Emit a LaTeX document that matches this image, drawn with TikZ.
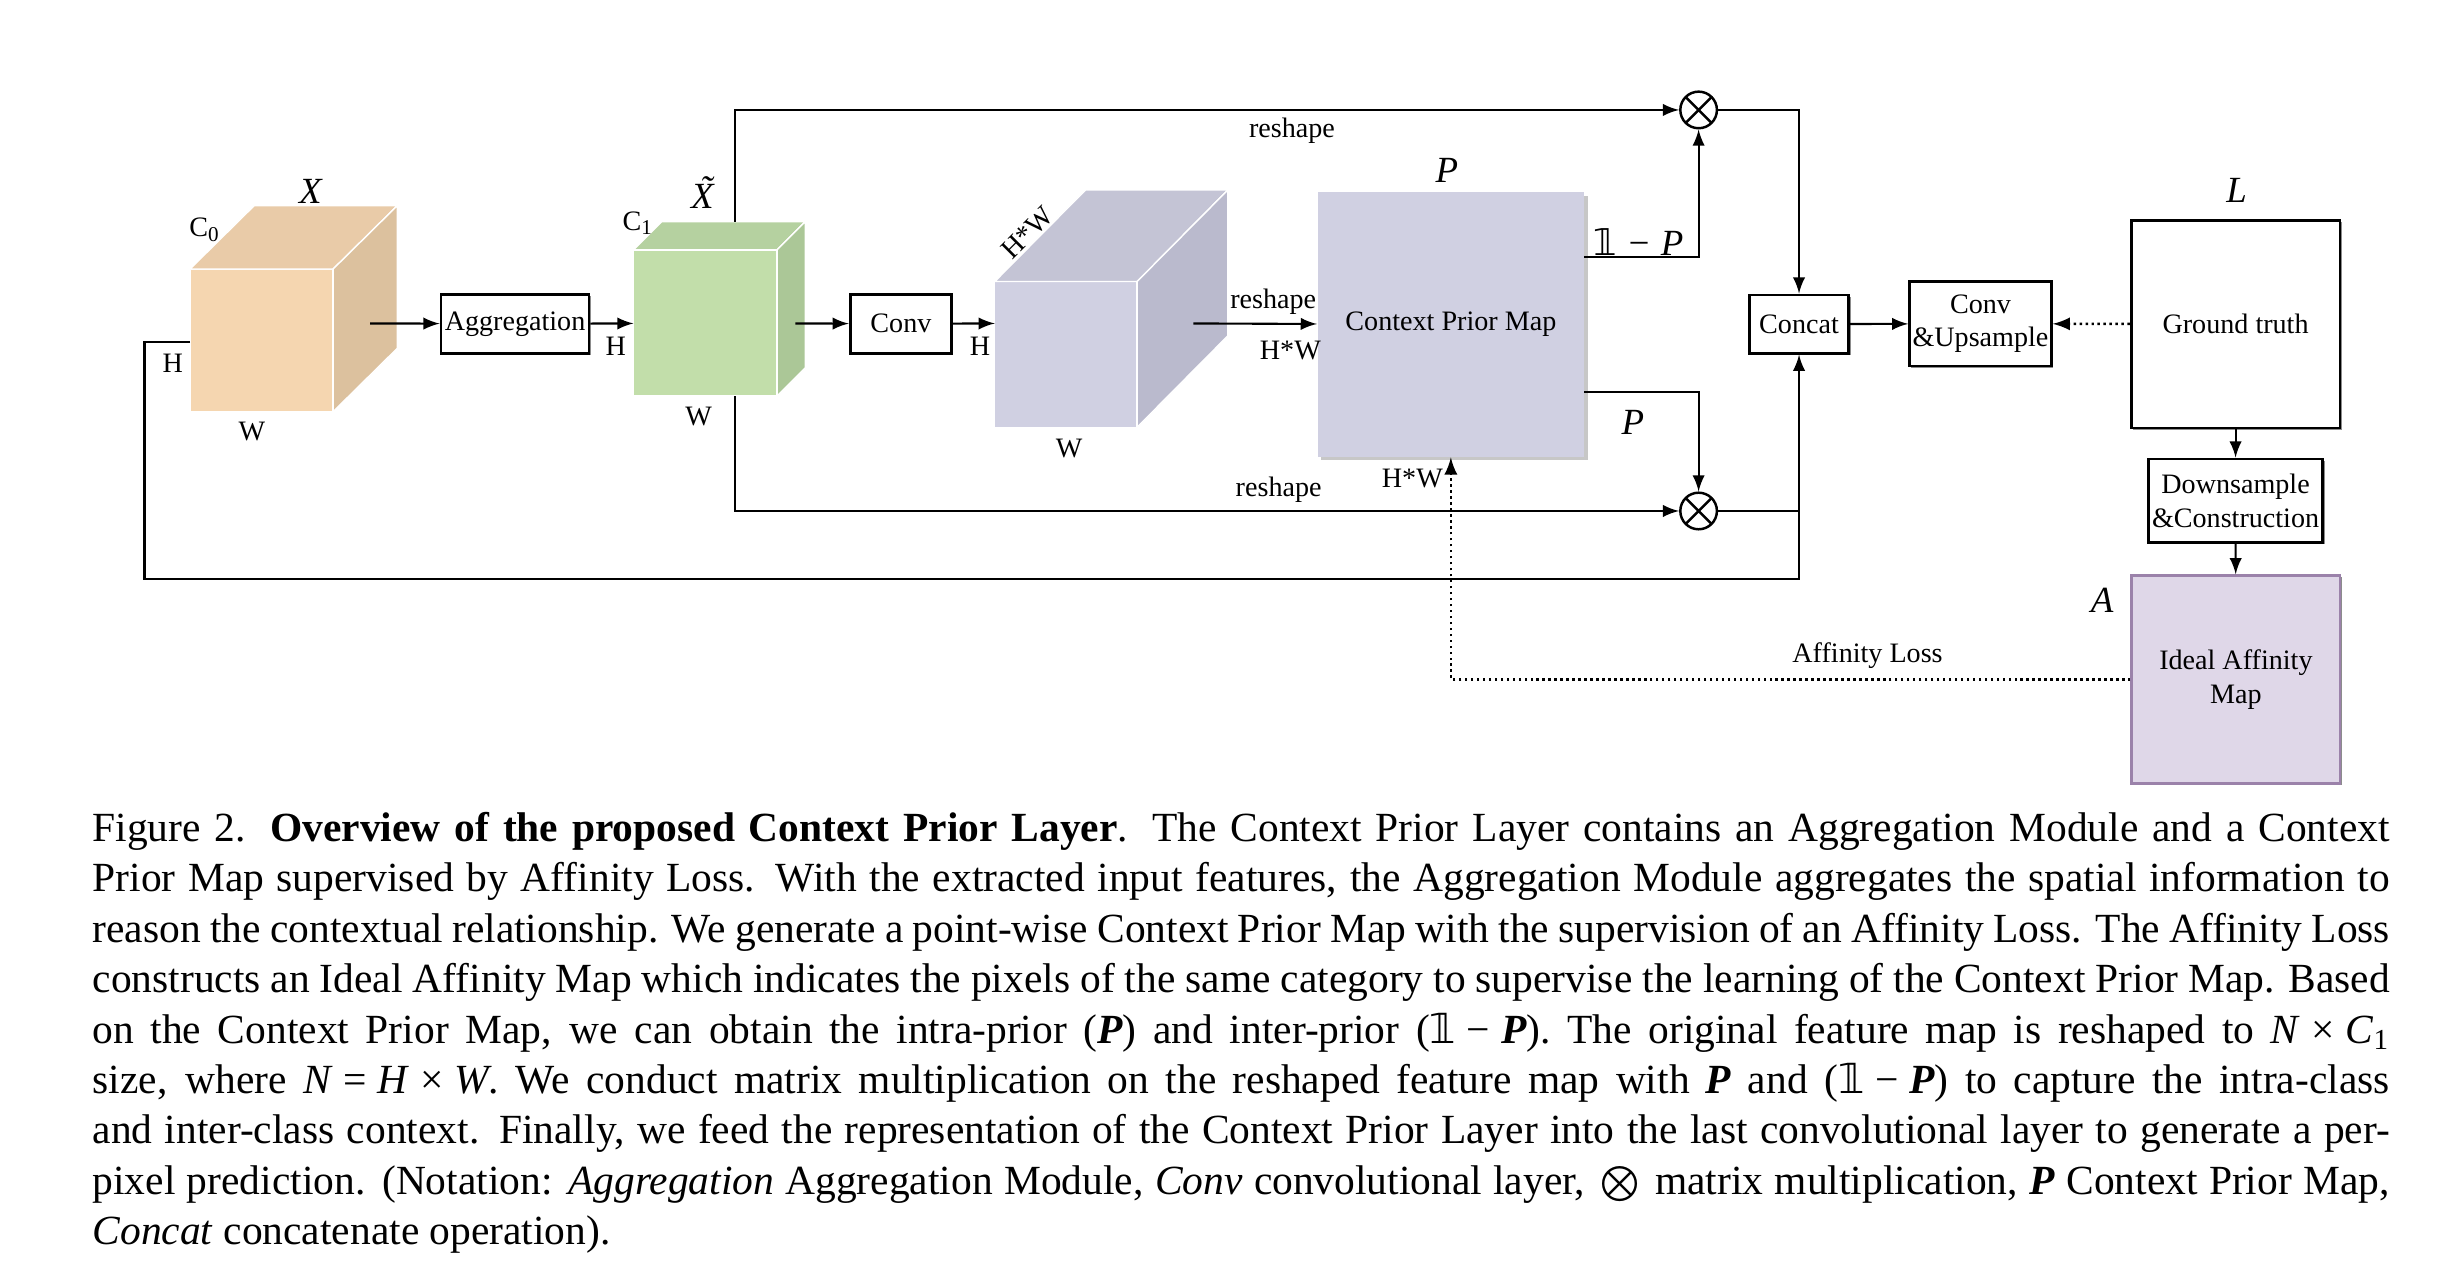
\documentclass[tikz,border=0pt]{standalone}
\usepackage{fontspec}
\setmainfont{Liberation Serif}
\newfontfamily\dvsans{DejaVu Sans}
\usetikzlibrary{arrows,shadows,calc}

\definecolor{xfront}{RGB}{245,214,176}
\definecolor{xtop}{RGB}{233,203,168}
\definecolor{xside}{RGB}{220,193,158}
\definecolor{gfront}{RGB}{194,222,170}
\definecolor{gtop}{RGB}{181,209,160}
\definecolor{gside}{RGB}{171,199,151}
\definecolor{pfront}{RGB}{208,208,226}
\definecolor{ptop}{RGB}{196,196,213}
\definecolor{pside}{RGB}{186,186,205}
\definecolor{iafill}{RGB}{223,215,232}
\definecolor{iadraw}{RGB}{155,130,170}

\newcommand{\one}{{\dvsans\upshape\mdseries 𝟙}}
\newcommand{\vP}{\textbf{\textit{P}}}
\newcommand{\bop}[1]{\kern0.26em#1\kern0.26em}
\newcommand{\capline}[1]{\hbox to 22.97cm{#1}}

\begin{document}
\begin{tikzpicture}[x=0.015641cm,y=-0.015641cm,
   font=\fontsize{8}{9.6}\selectfont,
   arr/.style={-latex,line width=0.6pt},
   dots/.style={-latex,line width=0.7pt,densely dotted},
   box/.style={draw,line width=0.8pt,fill=white,inner sep=0pt,align=center,
     drop shadow={shadow xshift=0.5pt,shadow yshift=-0.5pt,fill=black!45,opacity=1}},
   mul/.style={circle,draw,line width=0.7pt,minimum size=0.366cm,inner sep=0pt,
     path picture={\draw[line width=0.7pt] (path picture bounding box.north west) -- (path picture bounding box.south east)
       (path picture bounding box.north east) -- (path picture bounding box.south west);}},
   mlabel/.style={font=\fontsize{10.5}{12}\selectfont\itshape},
   capline/.style={anchor=base west,inner sep=0pt,font=\fontsize{11.8}{14.3}\selectfont}]
   \useasboundingbox (0,0) rectangle (1560,814.5);

   % input feature X
   \fill[xfront,draw=white,line width=0.4pt] (121.5,172) rectangle (213,263.2);
   \fill[xtop,draw=white,line width=0.4pt] (121.5,172) -- (162.5,131.5) -- (254,131.5) -- (213,172) -- cycle;
   \fill[xside,draw=white,line width=0.4pt] (213,172) -- (254,131.5) -- (254,222.7) -- (213,263.2) -- cycle;
   \node[mlabel] (lx) at (198.5,122.6) {X};
   \node (lc0) at (131,147) {C\textsubscript{0}};
   \node (lhx) at (110.4,232.3) {H};
   \node (lwx) at (161,276) {W};
   \coordinate (xo) at (236.6,206.8);
   \coordinate (xl) at (121.5,218.5);

   % aggregated feature
   \fill[gfront,draw=white,line width=0.4pt] (405,159.8) rectangle (496.8,253.2);
   \fill[gtop,draw=white,line width=0.4pt] (405,159.8) -- (423,141.8) -- (514.8,141.8) -- (496.8,159.8) -- cycle;
   \fill[gside,draw=white,line width=0.4pt] (496.8,159.8) -- (514.8,141.8) -- (514.8,235.2) -- (496.8,253.2) -- cycle;
   \node[mlabel] (lxt) at (449,125.7) {\ooalign{X\cr\hidewidth\kern0.2em\raisebox{0.2em}{˜}\hidewidth\cr}};
   \node (lc1) at (408,142.7) {C\textsubscript{1}};
   \node (lhg) at (393.7,221.5) {H};
   \node (lwg) at (446.6,266.4) {W};
   \coordinate (gi) at (405,206.8);
   \coordinate (go) at (508.5,206.8);
   \coordinate (gup) at (469.8,141.8);
   \coordinate (gdn) at (469.8,253.2);

   % conv feature
   \fill[pfront,draw=white,line width=0.4pt] (636,180) rectangle (727,273.2);
   \fill[ptop,draw=white,line width=0.4pt] (636,180) -- (694,121.5) -- (785,121.5) -- (727,180) -- cycle;
   \fill[pside,draw=white,line width=0.4pt] (727,180) -- (785,121.5) -- (785,214.7) -- (727,273.2) -- cycle;
   \node[rotate=45,inner sep=0pt] (lhw) at (657,149) {H*W};
   \node (lhp) at (626.6,221.7) {H};
   \node (lwp) at (683.5,286.6) {W};
   \coordinate (pi) at (636,206.8);
   \coordinate (po) at (763,206.8);

   % boxes
   \node[box,minimum width=1.48cm,minimum height=0.59cm] (agg) at (329.3,207) {Aggregation};
   \node[box,minimum width=1.015cm,minimum height=0.593cm] (conv) at (576,207) {Conv};
   \node[draw=none,fill=pfront,minimum width=2.665cm,minimum height=2.643cm,inner sep=0pt,
     drop shadow={shadow xshift=1pt,shadow yshift=-1pt,fill=black!22,opacity=1}] (cpm) at (927.6,207.5) {Context Prior Map};
   \node[mlabel] (lp) at (925,108.8) {P};
   \node[mul] (mula) at (1086,70.3) {};
   \node[mul] (mulb) at (1086,326.7) {};
   \node[box,minimum width=0.995cm,minimum height=0.583cm] (concat) at (1150.2,207.2) {Concat};
   \node[box,minimum width=1.416cm,minimum height=0.845cm] (convup) at (1266.2,207) {Conv\\\&Upsample};
   \node[box,minimum width=2.087cm,minimum height=2.079cm] (gt) at (1429.3,207.2) {Ground truth};
   \node[mlabel] (ll) at (1430,121.5) {L};
   \node[box,minimum width=1.744cm,minimum height=0.837cm] (down) at (1429.3,320.2) {Downsample\\\&Construction};
   \node[box,draw=iadraw,fill=iafill,minimum width=2.08cm,minimum height=2.076cm] (iam) at (1429.5,434.4) {Ideal Affinity\\Map};
   \node[mlabel] (la) at (1344,383.7) {A};

   % connectors
   \draw[arr] (xo) -- (agg);
   \draw[arr] (agg) -- (gi);
   \draw[arr] (go) -- (conv);
   \draw[arr] (conv) -- (pi);
   \draw[arr] (po) -- (cpm);
   \node (lrs) at (814,193) {reshape};
   \node (lhw2) at (825,223.8) {H*W};
   \draw[arr] (gup) |- (mula);
   \node (lrs1) at (826,83.6) {reshape};
   \draw[arr] (gdn) |- (mulb);
   \node (lrs2) at (817.5,313.3) {reshape};
   \coordinate (cpma) at (1012.8,164.4);
   \coordinate (cpmb) at (1012.8,250.4);
   \draw[arr] (cpma) -| (mula);
   \node[mlabel] (l1p) at (1047.5,154.5) {\one\bop{−}P};
   \draw[arr] (cpmb) -| (mulb);
   \node[mlabel] (lp2) at (1044,270) {P};
   \draw[arr] (mula) -| (concat);
   \draw[line width=0.6pt] (mulb) -- (mulb -| concat);
   \coordinate (loop) at (92.4,370.2);
   \draw[arr] (xl) -| (loop) -| (concat);
   \draw[arr] (concat) -- (convup);
   \draw[dots] (gt) -- (convup);
   \draw[arr] (gt) -- (down);
   \draw[arr] (down) -- (iam);
   \draw[dots] (iam) -| (cpm);
   \node (laf) at (1194,419) {Affinity Loss};
   \node (lhw3) at (903,305.8) {H*W};

   % caption
   \node[capline] (cap1) at (58.8,538) {\capline{Figure 2. \textbf{Overview of the proposed Context Prior Layer}.  The Context Prior Layer contains an Aggregation Module and a Context}};
   \node[capline] (cap2) at (58.8,570.2) {\capline{Prior Map supervised by Affinity Loss.  With the extracted input features, the Aggregation Module aggregates the spatial information to}};
   \node[capline] (cap3) at (58.8,602.5) {\capline{reason the contextual relationship. We generate a point-wise Context Prior Map with the supervision of an Affinity Loss. The Affinity Loss}};
   \node[capline] (cap4) at (58.8,634.7) {\capline{constructs an Ideal Affinity Map which indicates the pixels of the same category to supervise the learning of the Context Prior Map. Based}};
   \node[capline] (cap5) at (58.8,667) {\capline{on the Context Prior Map, we can obtain the intra-prior (\vP) and inter-prior (\one\bop{−}\vP).  The original feature map is reshaped to \textit{N}\bop{×}\textit{C}\textsubscript{1}}};
   \node[capline] (cap6) at (58.8,699.2) {\capline{size, where \textit{N}\bop{=}\textit{H}\bop{×}\textit{W}. We conduct matrix multiplication on the reshaped feature map with \vP{} and (\one\bop{−}\vP) to capture the intra-class}};
   \node[capline] (cap7) at (58.8,731.4) {\capline{and inter-class context.  Finally, we feed the representation of the Context Prior Layer into the last convolutional layer to generate a per-}};
   \node[capline] (cap8) at (58.8,763.7) {\capline{pixel prediction. (Notation: \textit{Aggregation} Aggregation Module, \textit{Conv} convolutional layer, \kern0.1em$\bigotimes$\kern0.1em{} matrix multiplication, \vP{} Context Prior Map,}};
   \node[capline] (cap9) at (58.8,795.9) {\textit{Concat} concatenate operation).};
\end{tikzpicture}
\end{document}
